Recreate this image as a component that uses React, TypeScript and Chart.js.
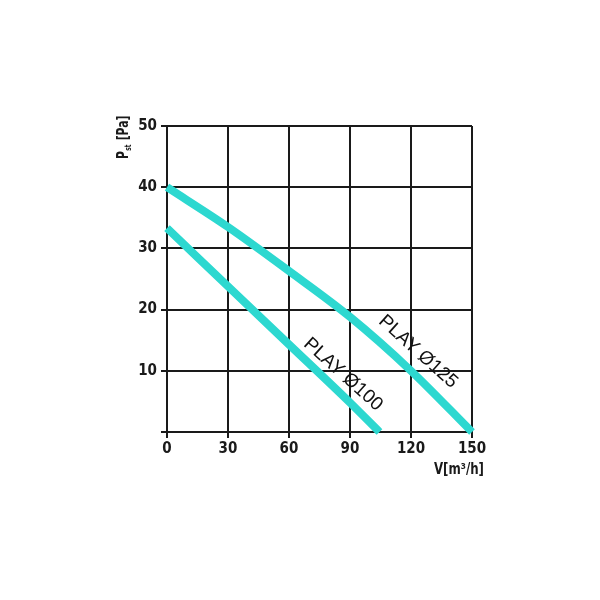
import React, { useEffect, useRef } from "react";
import { Chart, registerables } from "chart.js";

Chart.register(...registerables);

const xTicks = [0, 30, 60, 90, 120, 150];
const yTicks = [0, 10, 20, 30, 40, 50];
const play100X = [0, 30, 60, 90, 104.5];
const play100Y = [33.3, 23.8, 14.3, 4.8, 0];
const play125X = [0, 30, 60, 90, 120, 150];
const play125Y = [40, 33.5, 26.3, 18.8, 10, 0];
const seriesNames = ["PLAY Ø100", "PLAY Ø125"];
const labelAnchorX = [86.6, 123.5];
const labelAnchorY = [9.4, 13.1];

const LINE_COLOR = "#2dd8d0";
const INK = "#1a1a1a";
const TICK_FONT = "'DejaVu Sans Condensed', 'DejaVu Sans', sans-serif";

const labelsPlugin = {
  id: "labelsPlugin",
  afterDatasetsDraw(chart: any) {
    const { ctx, scales } = chart;
    const xs = scales.x;
    const ys = scales.y;
    ctx.save();
    ctx.fillStyle = "#111";
    ctx.font = "19px 'Liberation Sans', Arial, sans-serif";
    ctx.textAlign = "center";
    ctx.textBaseline = "middle";
    for (let i = 0; i < seriesNames.length; i++) {
      const px = xs.getPixelForValue(labelAnchorX[i]);
      const py = ys.getPixelForValue(labelAnchorY[i]);
      ctx.save();
      ctx.translate(px, py);
      ctx.rotate((42 * Math.PI) / 180);
      ctx.fillText(seriesNames[i], 0, 0);
      ctx.restore();
    }
    ctx.restore();

    // Y axis title: P_st [Pa]
    ctx.save();
    ctx.fillStyle = INK;
    ctx.translate(128, 159);
    ctx.rotate(-Math.PI / 2);
    ctx.scale(0.8, 1);
    ctx.textAlign = "left";
    ctx.textBaseline = "alphabetic";
    ctx.font = `bold 15px ${TICK_FONT}`;
    ctx.fillText("P", 0, 0);
    let w = ctx.measureText("P").width;
    ctx.font = `bold 8px ${TICK_FONT}`;
    ctx.fillText("st", w + 0.5, 3);
    w += ctx.measureText("st").width + 1;
    ctx.font = `bold 15px ${TICK_FONT}`;
    ctx.fillText(" [Pa]", w, 0);
    ctx.restore();

    // X axis title: V[m³/h]
    ctx.save();
    ctx.fillStyle = INK;
    ctx.translate(484, 470);
    ctx.scale(0.82, 1);
    ctx.font = `bold 16px ${TICK_FONT}`;
    ctx.textAlign = "right";
    ctx.textBaseline = "middle";
    ctx.fillText("V[m³/h]", 0, 0);
    ctx.restore();
  },
};

export default function App() {
  const ref = useRef<HTMLCanvasElement | null>(null);
  useEffect(() => {
    if (!ref.current) return;
    const chart = new Chart(ref.current, {
      type: "line",
      data: {
        datasets: [
          {
            label: seriesNames[0],
            data: play100X.map((x, i) => ({ x, y: play100Y[i] })),
            borderColor: LINE_COLOR,
            borderWidth: 8,
            pointRadius: 0,
            cubicInterpolationMode: "monotone",
            borderCapStyle: "butt",
            clip: false as any,
          },
          {
            label: seriesNames[1],
            data: play125X.map((x, i) => ({ x, y: play125Y[i] })),
            borderColor: LINE_COLOR,
            borderWidth: 8,
            pointRadius: 0,
            cubicInterpolationMode: "monotone",
            borderCapStyle: "butt",
            clip: false as any,
          },
        ],
      },
      options: {
        responsive: false,
        animation: false,
        layout: { padding: { left: 0, top: 126, right: 128, bottom: 0 } },
        plugins: { legend: { display: false }, tooltip: { enabled: false } },
        scales: {
          x: {
            type: "linear",
            min: 0,
            max: 150,
            afterBuildTicks: (s: any) => {
              s.ticks = xTicks.map((v) => ({ value: v }));
            },
            afterFit: (s: any) => {
              s.height = 168;
            },
            ticks: {
              color: INK,
              font: { family: TICK_FONT, size: 15, weight: "bold" },
              padding: 2,
              maxRotation: 0,
            },
            grid: { color: INK, lineWidth: 2, tickLength: 6 },
            border: { color: INK, width: 2 },
          },
          y: {
            type: "linear",
            min: 0,
            max: 50,
            afterBuildTicks: (s: any) => {
              s.ticks = yTicks.map((v) => ({ value: v }));
            },
            afterFit: (s: any) => {
              s.width = 167;
            },
            ticks: {
              color: INK,
              font: { family: TICK_FONT, size: 15, weight: "bold" },
              padding: 4,
              callback: (v: any) => (v === 0 ? "" : String(v)),
            },
            grid: { color: INK, lineWidth: 2, tickLength: 6 },
            border: { color: INK, width: 2 },
          },
        },
      },
      plugins: [labelsPlugin],
    } as any);
    return () => chart.destroy();
  }, []);
  return (
    <div style={{ position: "fixed", left: 0, top: 0, width: 600, height: 600, background: "#fff" }}>
      <canvas ref={ref} width={600} height={600} style={{ width: 600, height: 600, display: "block" }} />
    </div>
  );
}
